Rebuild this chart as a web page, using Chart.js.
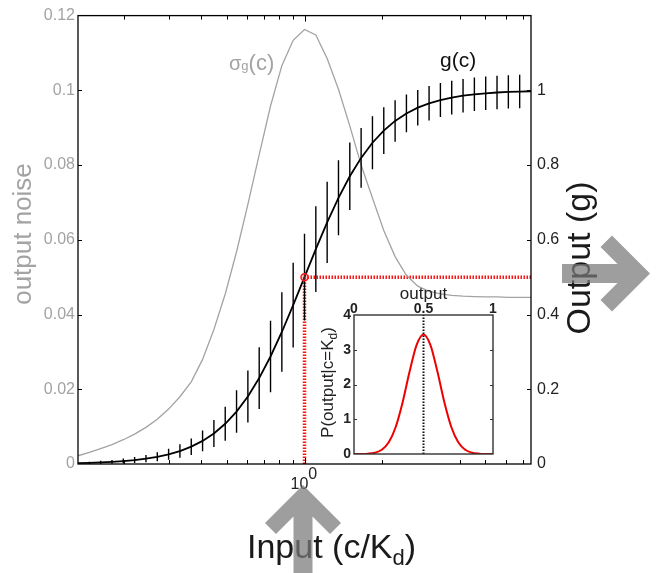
<!DOCTYPE html>
<html><head><meta charset="utf-8">
<script src="https://cdn.jsdelivr.net/npm/chart.js@4.4.1/dist/chart.umd.min.js"></script>
<style>
html,body{margin:0;padding:0;background:#fff;}
#wrap{position:relative;width:657px;height:573px;overflow:hidden;}
#main{position:absolute;left:0;top:0;}
#inset{position:absolute;left:300px;top:280px;}
</style></head><body>
<div id="wrap"><canvas id="main" width="657" height="573"></canvas><canvas id="inset" width="200" height="185"></canvas></div>
<script>
// ---- data ----
const concentrations = [0.13335,0.14748,0.16312,0.18041,0.19953,0.22067,0.24406,0.26993,0.29854,0.33018,0.36518,0.40388,0.44668,0.49403,0.54639,0.60430,0.66834,0.73918,0.81752,0.90416,1.0,1.10599,1.22321,1.35286,1.49624,1.65482,1.83021,2.02418,2.23872,2.47599,2.73842,3.02866,3.34965,3.70467,4.09732,4.53158,5.01187,5.54306,6.13055,6.78029,7.49894];
const outputMean = [0.0024,0.0032,0.0043,0.0058,0.0079,0.0106,0.0143,0.0193,0.0259,0.0347,0.0464,0.0618,0.0818,0.1076,0.1403,0.1808,0.2299,0.2877,0.3533,0.4250,0.5000,0.5750,0.6467,0.7123,0.7701,0.8192,0.8597,0.8924,0.9182,0.9382,0.9536,0.9653,0.9741,0.9807,0.9857,0.9894,0.9921,0.9942,0.9957,0.9968,0.9976];
const outputNoise = [0.0022,0.0031,0.0041,0.0052,0.0065,0.0080,0.0098,0.0120,0.0147,0.0180,0.0220,0.0280,0.0360,0.0455,0.0568,0.0695,0.0828,0.0958,0.1066,0.1134,0.1163,0.1148,0.1085,0.1003,0.0905,0.0800,0.0712,0.0625,0.0555,0.0505,0.0476,0.0462,0.0455,0.0451,0.0449,0.0448,0.0447,0.0447,0.0446,0.0446,0.0446];
const noiseTicks = [0,0.02,0.04,0.06,0.08,0.1,0.12];
const outputTicks = [0,0.2,0.4,0.6,0.8,1];
const inputTicks = [0.2,0.3,0.4,0.5,0.6,0.7,0.8,0.9,1,2,4,5,6,7];
const markerC = 1, markerG = 0.5;
const insetOutput = [0,0.05,0.1,0.15,0.2,0.25,0.3,0.35,0.4,0.45,0.5,0.55,0.6,0.65,0.7,0.75,0.8,0.85,0.9,0.95,1];
const insetProb = [0.0003,0.0019,0.009,0.0363,0.1214,0.337,0.778,1.491,2.372,3.135,3.44,3.135,2.372,1.491,0.778,0.337,0.1214,0.0363,0.009,0.0019,0.0003];
const insetYTicks = [0,1,2,3,4];
const insetXTicks = [0,0.5,1];
const insetXLabels = ['0','0.5','1'];

const FONT = '"Liberation Sans", Arial, Helvetica, sans-serif';
const GRAY = '#a3a3a3';
const RED = 'rgb(255,20,20)';
const last = concentrations.length - 1;

const errData = [];
for (let i = 1; i < last; i++) {
  const c = concentrations[i], g = outputMean[i], s = outputNoise[i];
  errData.push({x:c, y:g - s}, {x:c, y:g + s}, {x:c, y:null});
}

function rich(ctx, parts, x, y) {
  let cx = x;
  for (const p of parts) {
    ctx.font = (p.w || '') + ' ' + p.s + 'px ' + FONT;
    ctx.fillText(p.t, cx, y + (p.dy || 0));
    cx += ctx.measureText(p.t).width;
  }
  return cx - x;
}
function richWidth(ctx, parts) {
  let w = 0;
  for (const p of parts) { ctx.font = (p.w || '') + ' ' + p.s + 'px ' + FONT; w += ctx.measureText(p.t).width; }
  return w;
}

const mainDeco = {
  id: 'mainDeco',
  afterDraw(chart) {
    const ctx = chart.ctx, ca = chart.chartArea;
    const sx = chart.scales.x, yL = chart.scales.yL, yR = chart.scales.yR;
    ctx.save();
    ctx.strokeStyle = '#000'; ctx.lineWidth = 1.3;
    ctx.strokeRect(ca.left, ca.top, ca.right - ca.left, ca.bottom - ca.top);
    ctx.lineWidth = 1;
    ctx.beginPath();
    noiseTicks.slice(1, -1).forEach(v => { const y = Math.round(yL.getPixelForValue(v)) + 0.5; ctx.moveTo(ca.left, y); ctx.lineTo(ca.left + 4, y); });
    outputTicks.slice(1).forEach(v => { const y = Math.round(yR.getPixelForValue(v)) + 0.5; ctx.moveTo(ca.right, y); ctx.lineTo(ca.right - 4, y); });
    inputTicks.forEach(v => { const x = Math.round(sx.getPixelForValue(v)) + 0.5; const L = v === 1 ? 6 : 4;
      ctx.moveTo(x, ca.bottom); ctx.lineTo(x, ca.bottom - L); ctx.moveTo(x, ca.top); ctx.lineTo(x, ca.top + L); });
    ctx.stroke();

    ctx.textBaseline = 'alphabetic'; ctx.textAlign = 'left';
    ctx.fillStyle = '#222';
    const x1 = sx.getPixelForValue(1);
    rich(ctx, [{t:'10', s:16}, {t:'0', s:16, dy:-10}], x1 - 14, 489);
    ctx.fillStyle = GRAY;
    rich(ctx, [{t:'\u03c3', s:20}, {t:'g', s:13, dy:0}, {t:'(c)', s:22}], 229, 70);
    ctx.fillStyle = '#111';
    rich(ctx, [{t:'g(c)', s:21}], 440, 67);
    ctx.save(); ctx.fillStyle = GRAY; ctx.translate(31, 234); ctx.rotate(-Math.PI/2);
    ctx.font = '26px ' + FONT; ctx.textAlign = 'center'; ctx.fillText('output noise', 0, 0); ctx.restore();
    ctx.save(); ctx.fillStyle = '#1a1a1a'; ctx.translate(590, 258); ctx.rotate(-Math.PI/2);
    ctx.font = '34px ' + FONT; ctx.textAlign = 'center'; ctx.fillText('Output (g)', 0, 0); ctx.restore();
    ctx.fillStyle = '#1a1a1a';
    rich(ctx, [{t:'Input (c/K', s:34}, {t:'d', s:22, dy:7}, {t:')', s:34}], 247, 558);

    ctx.fillStyle = 'rgba(120,120,120,0.72)';
    ctx.beginPath();
    ctx.moveTo(303, 485); ctx.lineTo(341, 523); ctx.lineTo(330, 534); ctx.lineTo(312.5, 516.5); ctx.lineTo(312.5, 573);
    ctx.lineTo(293.5, 573); ctx.lineTo(293.5, 516.5); ctx.lineTo(276, 534); ctx.lineTo(265, 523); ctx.closePath(); ctx.fill();
    ctx.beginPath();
    ctx.moveTo(650, 273.5); ctx.lineTo(612, 311.5); ctx.lineTo(600.5, 300); ctx.lineTo(617.5, 283); ctx.lineTo(562, 283);
    ctx.lineTo(562, 264); ctx.lineTo(617.5, 264); ctx.lineTo(600.5, 247); ctx.lineTo(612, 235.5); ctx.closePath(); ctx.fill();
    ctx.restore();
  }
};

new Chart(document.getElementById('main'), {
  type: 'line',
  data: { datasets: [
    { data: [{x:markerC, y:markerG}], yAxisID:'yR', showLine:false, pointRadius:3.5, pointBorderColor:RED, pointBackgroundColor:'rgba(255,120,120,0.3)', pointBorderWidth:1.5, order:1 },
    { data: concentrations.map((c,i)=>({x:c, y:outputMean[i]})), yAxisID:'yR', borderColor:'#000', borderWidth:1.8, pointRadius:0, tension:0, order:2 },
    { data: errData, yAxisID:'yR', borderColor:'#000', borderWidth:1.4, pointRadius:0, spanGaps:false, order:3 },
    { data: concentrations.map((c,i)=>({x:c, y:outputNoise[i]})), yAxisID:'yL', borderColor:GRAY, borderWidth:1.3, pointRadius:0, tension:0, order:4 },
    { data: [{x:markerC, y:markerG}, {x:concentrations[last], y:markerG}], yAxisID:'yR', borderColor:RED, borderWidth:3.5, borderDash:[1.5,1.5], pointRadius:0, order:5 },
    { data: [{x:markerC, y:0}, {x:markerC, y:markerG}], yAxisID:'yR', borderColor:RED, borderWidth:3.5, borderDash:[1.5,1.5], pointRadius:0, order:6 }
  ]},
  options: {
    responsive:false, animation:false, events:[],
    layout:{padding:{top:12, left:0, right:0, bottom:0}},
    plugins:{legend:{display:false}, tooltip:{enabled:false}},
    scales:{
      x:{type:'logarithmic', position:'bottom', min:concentrations[0], max:concentrations[last],
         afterFit(s){ s.height = 109; }, afterBuildTicks(s){ s.ticks = inputTicks.map(v=>({value:v})); },
         ticks:{display:false}, grid:{display:false, drawTicks:false}, border:{display:false}},
      yL:{type:'linear', position:'left', min:0, max:0.12,
         afterFit(s){ s.width = 78; }, afterBuildTicks(s){ s.ticks = noiseTicks.map(v=>({value:v})); },
         ticks:{color:GRAY, font:{family:FONT, size:16}, padding:3, callback:v=>String(v)},
         grid:{display:false, drawTicks:false}, border:{display:false}},
      yR:{type:'linear', position:'right', min:0, max:1.2,
         afterFit(s){ s.width = 126; }, afterBuildTicks(s){ s.ticks = outputTicks.map(v=>({value:v})); },
         ticks:{color:'#222', font:{family:FONT, size:16}, padding:6, callback:v=>String(v)},
         grid:{display:false, drawTicks:false}, border:{display:false}}
    }
  },
  plugins:[mainDeco]
});

const insetDeco = {
  id:'insetDeco',
  beforeDatasetsDraw(chart) {
    const ctx = chart.ctx, ca = chart.chartArea;
    ctx.save(); ctx.fillStyle = '#fff'; ctx.fillRect(ca.left, ca.top, ca.right - ca.left, ca.bottom - ca.top); ctx.restore();
  },
  afterDraw(chart) {
    const ctx = chart.ctx, ca = chart.chartArea, sx = chart.scales.x, sy = chart.scales.y;
    ctx.save();
    ctx.strokeStyle = '#333'; ctx.lineWidth = 1.4;
    ctx.strokeRect(ca.left, ca.top, ca.right - ca.left, ca.bottom - ca.top);
    ctx.lineWidth = 1; ctx.beginPath();
    insetYTicks.slice(1, -1).forEach(v => { const y = Math.round(sy.getPixelForValue(v)) + 0.5;
      ctx.moveTo(ca.left, y); ctx.lineTo(ca.left + 3, y); ctx.moveTo(ca.right, y); ctx.lineTo(ca.right - 3, y); });
    ctx.stroke();
    ctx.fillStyle = '#222';
    ctx.font = 'bold 14px ' + FONT; ctx.textAlign = 'center'; ctx.textBaseline = 'alphabetic';
    insetXTicks.forEach((v, i) => ctx.fillText(insetXLabels[i], sx.getPixelForValue(v), ca.top - 2));
    ctx.textAlign = 'right'; ctx.textBaseline = 'middle';
    insetYTicks.forEach(v => ctx.fillText(String(v), ca.left - 3, sy.getPixelForValue(v)));
    ctx.textAlign = 'center'; ctx.textBaseline = 'alphabetic';
    ctx.font = '17px ' + FONT;
    ctx.fillText('output', (ca.left + ca.right) / 2, 19);
    ctx.save(); ctx.translate(33, (ca.top + ca.bottom) / 2 - 2); ctx.rotate(-Math.PI/2);
    ctx.textAlign = 'left';
    const parts = [{t:'P(output|c=K', s:17}, {t:'d', s:12, dy:4}, {t:')', s:17}];
    const w = richWidth(ctx, parts);
    rich(ctx, parts, -w/2, 0);
    ctx.restore();
    ctx.restore();
  }
};

new Chart(document.getElementById('inset'), {
  type:'line',
  data:{ datasets:[
    { data: insetOutput.map((x,i)=>({x, y:insetProb[i]})), borderColor:'#ee0000', borderWidth:2, pointRadius:0, cubicInterpolationMode:'monotone' },
    { data: [{x:0.5, y:0}, {x:0.5, y:4}], borderColor:'#111', borderWidth:2, borderDash:[1.5,1.5], pointRadius:0 }
  ]},
  options:{
    responsive:false, animation:false, events:[],
    layout:{padding:{left:54, right:7, top:35, bottom:11}},
    plugins:{legend:{display:false}, tooltip:{enabled:false}},
    scales:{ x:{type:'linear', min:0, max:1, display:false}, y:{type:'linear', min:0, max:4, display:false} }
  },
  plugins:[insetDeco]
});
</script>
</body></html>
